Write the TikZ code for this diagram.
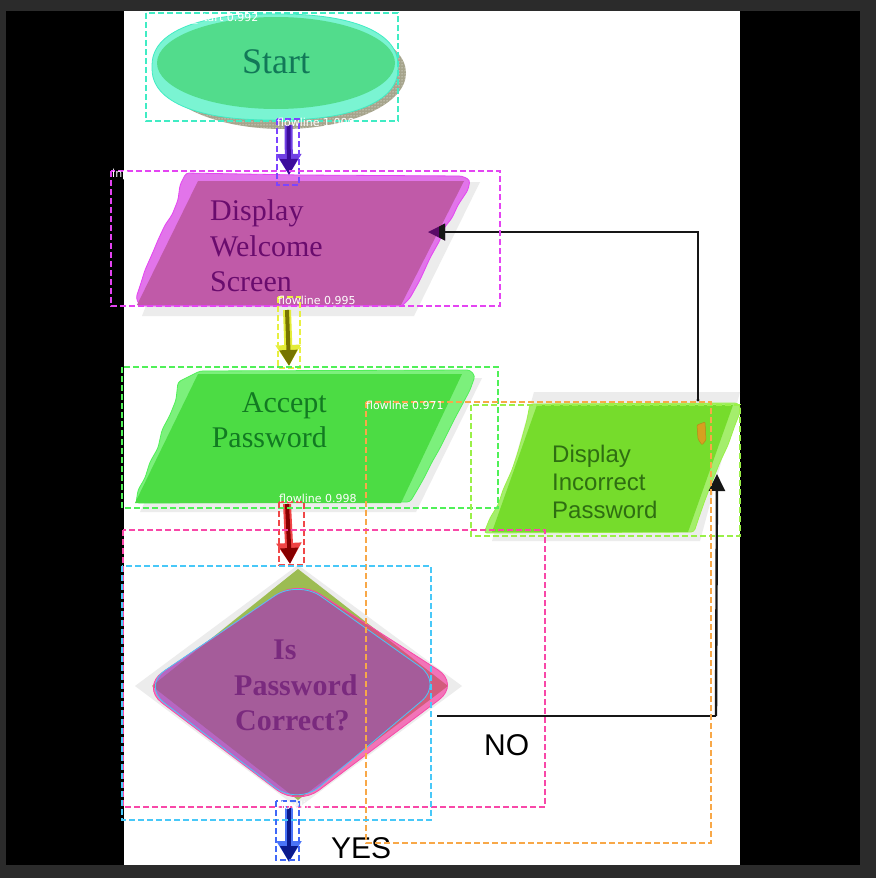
\documentclass[tikz,border=0pt]{standalone}
\usepackage{fontspec}
\setmainfont{Liberation Serif}
\setsansfont{Liberation Sans}
\newfontfamily\tagfont{DejaVu Sans}
\usetikzlibrary{arrows.meta,patterns}

% frame and page
\definecolor{framegray}{HTML}{2B2B2B}
\definecolor{shadowgray}{HTML}{ECECEC}
% terminal
\definecolor{startshadow}{HTML}{A6A48C}
\definecolor{startrim}{HTML}{7AF4D2}
\definecolor{startfill}{HTML}{52DC8C}
\definecolor{starttext}{HTML}{127858}
% input / output boxes
\definecolor{welcomerim}{HTML}{E274EA}
\definecolor{welcomefill}{HTML}{C05AA8}
\definecolor{welcometext}{HTML}{6A0C6E}
\definecolor{acceptrim}{HTML}{7CF07C}
\definecolor{acceptfill}{HTML}{4CDC44}
\definecolor{accepttext}{HTML}{127A22}
\definecolor{wrongrim}{HTML}{A4EE6C}
\definecolor{wrongfill}{HTML}{76DC2C}
\definecolor{wrongtext}{HTML}{2F6E12}
% decision
\definecolor{decbase}{HTML}{9CBC52}
\definecolor{pinklight}{HTML}{F274B8}
\definecolor{pinkdark}{HTML}{D25C7C}
\definecolor{purplelight}{HTML}{B766C2}
\definecolor{purpledark}{HTML}{A55C9A}
\definecolor{dectext}{HTML}{7A2A7E}
% detection boxes
\definecolor{boxstart}{HTML}{40ECC4}
\definecolor{boxviolet}{HTML}{7C44FF}
\definecolor{boxmagenta}{HTML}{E444F2}
\definecolor{boxyellow}{HTML}{E8F040}
\definecolor{boxgreen}{HTML}{50F058}
\definecolor{boxlime}{HTML}{9AF048}
\definecolor{boxorange}{HTML}{F8A848}
\definecolor{boxred}{HTML}{F04848}
\definecolor{boxpink}{HTML}{F848A8}
\definecolor{boxcyan}{HTML}{48C8F8}
\definecolor{boxblue}{HTML}{4068F8}
% arrow overlays
\definecolor{violethalo}{HTML}{7040E4}
\definecolor{violetcore}{HTML}{3C0C9C}
\definecolor{yellowhalo}{HTML}{E4EC38}
\definecolor{yellowcore}{HTML}{767400}
\definecolor{redhalo}{HTML}{F04444}
\definecolor{redcore}{HTML}{860000}
\definecolor{bluehalo}{HTML}{4A74F8}
\definecolor{bluecore}{HTML}{0A1A8C}
\definecolor{linkline}{HTML}{161616}
\definecolor{tipviolet}{HTML}{5A0A68}
\definecolor{blob}{HTML}{D6A020}

% overlaid flow arrow: halo colour, core colour, start, end
\newcommand{\flowarrow}[4]{%
  \draw[#1, line width=8pt, -{Triangle[length=21pt,width=24pt]}] (#3) -- (#4);
  \draw[#2, line width=4pt, -{Triangle[length=16pt,width=17pt]}] (#3) -- (#4);}

\begin{document}
\begin{tikzpicture}[x=1pt,y=-1pt,
  detbox/.style={draw=#1, line width=1.7pt, dash pattern=on 6pt off 3pt},
  dettag/.style={font=\tagfont\fontsize{11}{13}\selectfont, text=white,
                 anchor=base west, inner sep=0pt},
  serifline/.style={font=\fontsize{30}{35}\selectfont, inner sep=0pt},
  sansline/.style={font=\sffamily\fontsize{24}{28}\selectfont, inner sep=0pt},
  link/.style={draw=linkline, line width=2.4pt},
  linktip/.style={-{Triangle[length=17pt,width=16pt]}}
]
\useasboundingbox (0,0) rectangle (876,878);
\fill[framegray] (0,0) rectangle (876,878);
\fill[black] (6,11) rectangle (860,865);
\fill[white] (124,11) rectangle (740,865);

% ---------- Start terminal ----------
\fill[startshadow] (283,73) ellipse [x radius=123, y radius=56];
\fill[pattern=dots, pattern color=white] (283,73) ellipse [x radius=123, y radius=56];
\fill[startrim] plot[domain=0:360, samples=120, smooth cycle]
  ({275+123*sign(cos(\x))*abs(cos(\x))^0.85}, {67+53*sign(sin(\x))*abs(sin(\x))^0.85});
\draw[boxstart, line width=0.8pt] plot[domain=0:360, samples=120, smooth cycle]
  ({275+123*sign(cos(\x))*abs(cos(\x))^0.85}, {67+53*sign(sin(\x))*abs(sin(\x))^0.85});
\fill[startfill] (276,63) ellipse [x radius=119, y radius=46];
\node[font=\fontsize{36}{40}\selectfont, text=starttext, anchor=base, inner sep=0pt]
  (starttxt) at (276,73) {Start};

% ---------- Display Welcome Screen ----------
\fill[shadowgray] (194,182) -- (480,182) -- (414,316) -- (142,316) -- cycle;
\fill[welcomerim, rounded corners=3pt] (186,173) -- (300,175) -- (462,176) -- (470,180)
  -- (468,190) -- (458,205) -- (452,218) -- (444,228) -- (440,240) -- (430,258)
  -- (420,280) -- (410,298) -- (402,306) -- (140,306) -- (136,298) -- (140,286)
  -- (145,270) -- (153,252) -- (158,240) -- (165,225) -- (172,215) -- (178,200)
  -- (180,185) -- cycle;
\draw[boxmagenta, line width=0.8pt, rounded corners=3pt] (186,173) -- (300,175) -- (462,176) -- (470,180)
  -- (468,190) -- (458,205) -- (452,218) -- (444,228) -- (440,240) -- (430,258)
  -- (420,280) -- (410,298) -- (402,306) -- (140,306) -- (136,298) -- (140,286)
  -- (145,270) -- (153,252) -- (158,240) -- (165,225) -- (172,215) -- (178,200)
  -- (180,185) -- cycle;
\fill[welcomefill] (198,181) -- (464,181) -- (401,305) -- (137,305) -- cycle;
\node[serifline, text=welcometext, anchor=base west] (w1) at (210,220) {Display};
\node[serifline, text=welcometext, anchor=base west] (w2) at (210,256) {Welcome};
\node[serifline, text=welcometext, anchor=base west] (w3) at (210,291) {Screen};

% ---------- Accept Password ----------
\fill[shadowgray] (206,378) -- (482,378) -- (416,512) -- (140,512) -- cycle;
\fill[acceptrim, rounded corners=3pt] (200,371) -- (470,370) -- (475,376) -- (470,390)
  -- (462,405) -- (455,418) -- (448,432) -- (440,448) -- (432,462) -- (424,478)
  -- (416,492) -- (410,502) -- (136,503) -- (138,490) -- (145,478) -- (150,462)
  -- (158,448) -- (162,430) -- (170,415) -- (176,400) -- (178,382) -- cycle;
\draw[boxgreen, line width=0.8pt, rounded corners=3pt] (200,371) -- (470,370) -- (475,376) -- (470,390)
  -- (462,405) -- (455,418) -- (448,432) -- (440,448) -- (432,462) -- (424,478)
  -- (416,492) -- (410,502) -- (136,503) -- (138,490) -- (145,478) -- (150,462)
  -- (158,448) -- (162,430) -- (170,415) -- (176,400) -- (178,382) -- cycle;
\fill[acceptfill] (198,374) -- (462,374) -- (401,503) -- (135,503) -- cycle;
\node[serifline, text=accepttext, anchor=base east] (a1) at (327,412) {Accept};
\node[serifline, text=accepttext, anchor=base east] (a2) at (327,447) {Password};

% ---------- Display Incorrect Password ----------
\fill[shadowgray] (534,392) -- (740,392) -- (700,541) -- (492,541) -- cycle;
\fill[wrongrim, rounded corners=3pt] (530,404) -- (738,403) -- (741,410) -- (735,425)
  -- (728,445) -- (720,462) -- (712,482) -- (705,500) -- (698,520) -- (694,532)
  -- (484,533) -- (490,518) -- (498,505) -- (503,490) -- (512,470) -- (518,452)
  -- (522,438) -- (527,420) -- cycle;
\draw[boxlime, line width=0.8pt, rounded corners=3pt] (530,404) -- (738,403) -- (741,410) -- (735,425)
  -- (728,445) -- (720,462) -- (712,482) -- (705,500) -- (698,520) -- (694,532)
  -- (484,533) -- (490,518) -- (498,505) -- (503,490) -- (512,470) -- (518,452)
  -- (522,438) -- (527,420) -- cycle;
\fill[wrongfill] (537,405) -- (733,405) -- (688,532) -- (492,532) -- cycle;
\node[sansline, text=wrongtext, anchor=base west] (i1) at (552,462) {Display};
\node[sansline, text=wrongtext, anchor=base west] (i2) at (552,490) {Incorrect};
\node[sansline, text=wrongtext, anchor=base west] (i3) at (552,518) {Password};
\fill[blob, draw=blob!85!black, line width=0.5pt, rounded corners=1pt]
  (697,425) -- (705,422) -- (706,440) -- (702,445) -- (698,439) -- cycle;

% ---------- Decision ----------
\coordinate (dtop) at (298,569);
\coordinate (dright) at (448,686);
\coordinate (dbottom) at (298,800);
\coordinate (dleft) at (152,686);
\coordinate (nostart) at (437,716);
\coordinate (nocorner) at (716,716);
\coordinate (notip) at (717,474);
\fill[shadowgray] (298,565) -- (462,686) -- (298,808) -- (135,686) -- cycle;
\fill[decbase] (dtop) -- (dright) -- (dbottom) -- (dleft) -- cycle;
\fill[pinklight, rounded corners=26pt] (298,580) -- (460,684) -- (298,806) -- (141,687) -- cycle;
\begin{scope}
  \clip (dtop) -- (dright) -- (dbottom) -- (dleft) -- cycle;
  \fill[pinkdark, rounded corners=26pt] (298,580) -- (460,684) -- (298,806) -- (141,687) -- cycle;
\end{scope}
\fill[purplelight, rounded corners=28pt] (298,580) -- (443,683) -- (298,805) -- (142,686) -- cycle;
\begin{scope}
  \clip (dtop) -- (dright) -- (dbottom) -- (dleft) -- cycle;
  \fill[purpledark, rounded corners=28pt] (298,580) -- (443,683) -- (298,805) -- (142,686) -- cycle;
\end{scope}
\draw[boxpink, line width=0.8pt, rounded corners=26pt] (298,580) -- (460,684) -- (298,806) -- (141,687) -- cycle;
\draw[boxcyan, line width=0.8pt, rounded corners=28pt] (298,580) -- (443,683) -- (298,805) -- (142,686) -- cycle;
\node[serifline, font=\bfseries\fontsize{30}{35}\selectfont, text=dectext, anchor=base west] (d1) at (273,659) {Is};
\node[serifline, font=\bfseries\fontsize{30}{35}\selectfont, text=dectext, anchor=base west] (d2) at (234,695) {Password};
\node[serifline, font=\bfseries\fontsize{30}{35}\selectfont, text=dectext, anchor=base west] (d3) at (235,730) {Correct?};

% ---------- NO branch up to Display Incorrect Password ----------
\draw[link] (nostart) -- (nocorner);
\draw[link, linktip] (nocorner) -- (notip);
\node[font=\sffamily\fontsize{30}{34}\selectfont, anchor=base west, inner sep=0pt] (nolbl) at (484,755) {NO};

% ---------- return branch to Display Welcome Screen ----------
\coordinate (retstart) at (698,400);
\coordinate (retcorner) at (698,232);
\coordinate (rettip) at (428,232);
\draw[link] (retstart) -- (retcorner) -- (444,232);
\fill[linkline] (retstart) circle (1.6pt);
\fill[tipviolet] (rettip) -- (445,223.5) -- (445,240.5) -- cycle;
\fill[linkline] (439,226.7) -- (445,223.5) -- (445,240.5) -- (439,237.3) -- cycle;

% ---------- flowlines along the main column ----------
\coordinate (f1a) at (288.5,125);
\coordinate (f1b) at (289,175);
\coordinate (f2a) at (287,310);
\coordinate (f2b) at (289,366);
\coordinate (f3a) at (287,504);
\coordinate (f3b) at (290,564);
\coordinate (f4a) at (289,806);
\coordinate (f4b) at (289,862);
\flowarrow{violethalo}{violetcore}{f1a}{f1b}
\flowarrow{yellowhalo}{yellowcore}{f2a}{f2b}
\flowarrow{redhalo}{redcore}{f3a}{f3b}
\flowarrow{bluehalo}{bluecore}{f4a}{f4b}
\node[font=\sffamily\fontsize{30}{34}\selectfont, anchor=base west, inner sep=0pt] (yeslbl) at (331,858) {YES};

% ---------- detection boxes ----------
\draw[detbox=boxstart] (146,13) rectangle (398,121);
\draw[detbox=boxviolet] (277,119) rectangle (299,185);
\draw[detbox=boxmagenta] (111,171) rectangle (500,306);
\draw[detbox=boxyellow] (278,297) rectangle (300,368);
\draw[detbox=boxgreen] (122,367) rectangle (498,508);
\draw[detbox=boxlime] (471,405) rectangle (740,536);
\draw[detbox=boxorange] (366,402) rectangle (711,843);
\draw[detbox=boxred] (279,502) rectangle (304,565);
\draw[detbox=boxpink] (123,530) rectangle (545,807);
\draw[detbox=boxcyan] (122,566) rectangle (431,820);
\draw[detbox=boxblue] (276,801) rectangle (299,860);

% ---------- detection tags ----------
\node[dettag] (t1) at (192,21) {\_start 0.992};
\node[dettag] (t2) at (277,126) {flowline 1.000};
\node[dettag] (t3) at (112,177) {inp};
\node[dettag] (t4) at (278,304) {flowline 0.995};
\node[dettag] (t5) at (366,409) {flowline 0.971};
\node[dettag] (t6) at (279,502) {flowline 0.998};
\node[dettag] (t7) at (277,809) {flowline};
\end{tikzpicture}
\end{document}
